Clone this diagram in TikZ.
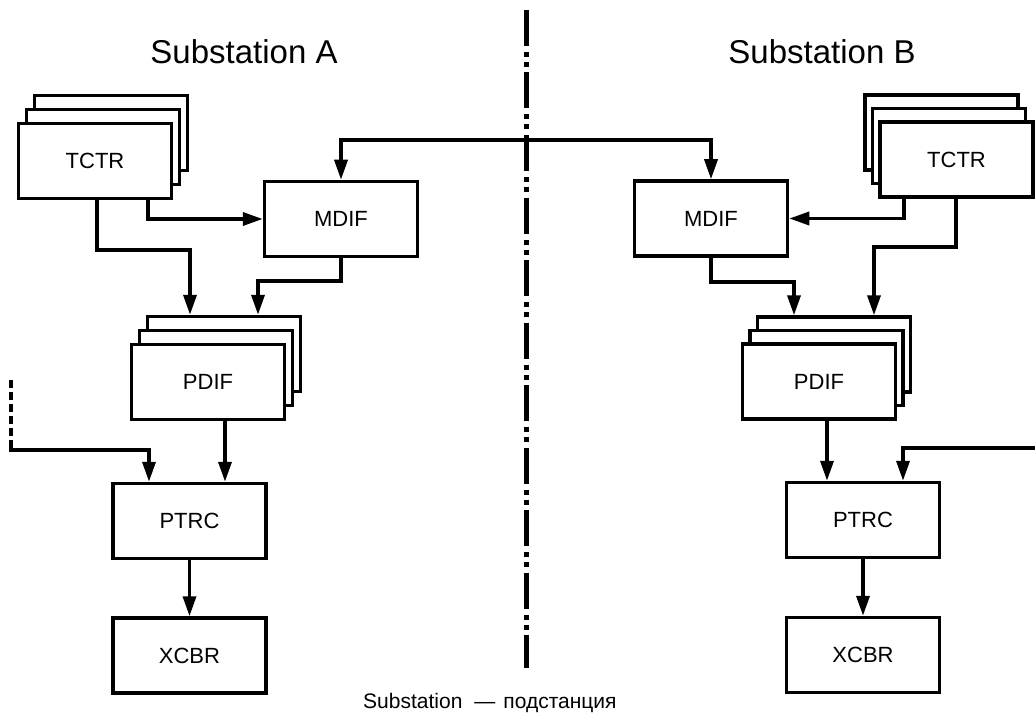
\documentclass[tikz,border=0pt]{standalone}
\usepackage{fontspec}
\setmainfont{Liberation Sans}
\usetikzlibrary{arrows.meta}
\tikzset{
  blk/.style={draw, line width=3.5pt, fill=white, minimum width=153pt, minimum height=75pt, inner sep=0pt, font=\fontsize{22}{26}\selectfont},
  ghost/.style={blk},
  arr/.style={line width=3.5pt, -{Triangle[length=20pt,width=13pt]}},
  arrboth/.style={line width=3.5pt, {Triangle[length=20pt,width=13pt]}-{Triangle[length=20pt,width=13pt]}},
  title/.style={anchor=base, font=\fontsize{33}{40}\selectfont},
  divider/.style={line width=5pt, dash pattern=on 36pt off 6pt on 5pt off 5pt on 5pt off 5.5pt},
  extdash/.style={line width=3.5pt, dash pattern=on 8pt off 4pt}
}
\begin{document}
\begin{tikzpicture}[x=1pt,y=-1pt]
\useasboundingbox (0,0) rectangle (1035,714);

% titles
\node[title] (titA) at (244,64) {Substation A};
\node[title] (titB) at (822,64) {Substation B};

% divider
\coordinate (divTop) at (526,10);
\coordinate (divBot) at (526,668);
\draw[divider] (divTop) -- (divBot);

% ---------- Substation A ----------
\node[ghost] (tctrA3) at (111,133) {};
\node[ghost] (tctrA2) at (103,147) {};
\node[blk] (tctrA) at (95,161) {TCTR};

\node[blk] (mdifA) at (341,219) {MDIF};

\node[ghost] (pdifA3) at (224,354) {};
\node[ghost] (pdifA2) at (216,368) {};
\node[blk] (pdifA) at (208,382) {PDIF};

\node[blk] (ptrcA) at (189.5,521) {PTRC};
\node[blk] (xcbrA) at (189.5,655.5) {XCBR};

% ---------- Substation B ----------
\node[ghost] (tctrB3) at (941.5,132.5) {};
\node[ghost] (tctrB2) at (949,146) {};
\node[blk] (tctrB) at (956.5,159.5) {TCTR};

\node[blk] (mdifB) at (711,218.5) {MDIF};

\node[ghost] (pdifB3) at (834,354.5) {};
\node[ghost] (pdifB2) at (826.5,368) {};
\node[blk] (pdifB) at (819,381.5) {PDIF};

\node[blk] (ptrcB) at (863,520) {PTRC};
\node[blk] (xcbrB) at (863,655) {XCBR};

% ---------- connectors A ----------
\draw[arr] (tctrA.south -| 148,0) |- (mdifA.west);
\draw[arr] (tctrA.south -| 97,0) |- (190,250) -- (pdifA3.north -| 190,0);
\draw[arr] (mdifA.south) |- (258,281) -- (pdifA3.north -| 258,0);
\draw[arr] (pdifA.south -| 225,0) -- (ptrcA.north -| 225,0);
\coordinate (extA) at (11,380);
\coordinate (extAb) at (11,441);
\draw[extdash] (extA) -- (extAb);
\draw[arr] (extAb) |- (149,450) -- (ptrcA.north -| 149,0);
\draw[arr] (ptrcA) -- (xcbrA);

% link between MDIFs
\draw[arrboth] (mdifA.north) -- (mdifA.north |- 0,140) -- (mdifB.north |- 0,140) -- (mdifB.north);

% ---------- connectors B ----------
\draw[arr] (tctrB.south -| 904,0) |- (mdifB.east);
\draw[arr] (tctrB.south -| 956,0) |- (874,247) -- (pdifB3.north -| 874,0);
\draw[arr] (mdifB.south) |- (794,282) -- (pdifB3.north -| 794,0);
\draw[arr] (pdifB.south -| 827,0) -- (ptrcB.north -| 827,0);
\coordinate (extB) at (1035,448);
\draw[arr] (extB) -| (ptrcB.north -| 903,0);
\draw[arr] (ptrcB) -- (xcbrB);

% caption
\node[anchor=base west, inner sep=0pt, font=\fontsize{21}{25}\selectfont] (cap) at (363,708) {Substation\hspace{12pt}—\hspace{8pt}подстанция};
\end{tikzpicture}
\end{document}
